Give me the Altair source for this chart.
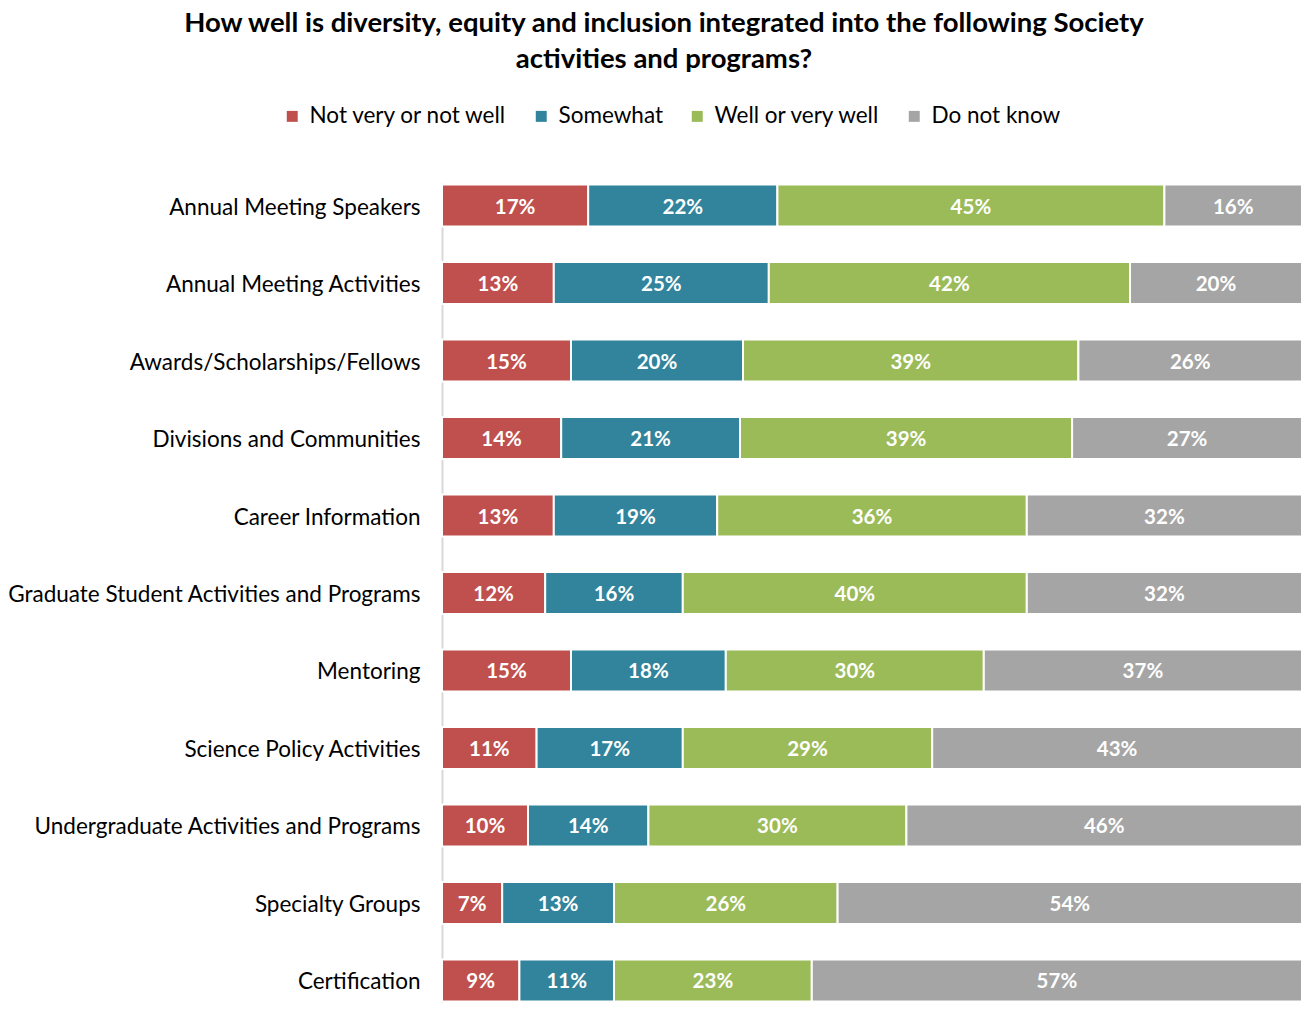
import altair as alt
import pandas as pd

categories = [
    "Annual Meeting Speakers",
    "Annual Meeting Activities",
    "Awards/Scholarships/Fellows",
    "Divisions and Communities",
    "Career Information",
    "Graduate Student Activities and Programs",
    "Mentoring",
    "Science Policy Activities",
    "Undergraduate Activities and Programs",
    "Specialty Groups",
    "Certification",
]
series = ["Not very or not well", "Somewhat", "Well or very well", "Do not know"]
colors = ["#C0504D", "#31849B", "#9BBB59", "#A5A5A5"]

not_well = [17, 13, 15, 14, 13, 12, 15, 11, 10, 7, 9]
somewhat = [22, 25, 20, 21, 19, 16, 18, 17, 14, 13, 11]
well = [45, 42, 39, 39, 36, 40, 30, 29, 30, 26, 23]
dont_know = [16, 20, 26, 27, 32, 32, 37, 43, 46, 54, 57]

rows = []
for vals, s, o in zip([not_well, somewhat, well, dont_know], series, range(4)):
    for c, v in zip(categories, vals):
        rows.append({"cat": c, "series": s, "order": o, "value": v, "label": f"{v}%"})
df = pd.DataFrame(rows)

FONT = "Lato"

base = alt.Chart(df).transform_stack(
    stack="value",
    groupby=["cat"],
    as_=["x0", "x1"],
    offset="normalize",
    sort=[alt.SortField("order", order="ascending")],
).transform_calculate(xm="(datum.x0 + datum.x1) / 2")

y_enc = alt.Y(
    "cat:N",
    sort=categories,
    title=None,
    scale=alt.Scale(paddingInner=0.458, paddingOuter=0.02),
    axis=alt.Axis(
        labelFont=FONT,
        labelFontSize=22.5,
        labelColor="#000000",
        labelPadding=22,
        labelOffset=2,
        ticks=False,
        domainColor="#D9D9D9",
        domainWidth=2,
        labelLimit=500,
    ),
)

bars = base.mark_bar(stroke="white", strokeWidth=2).encode(
    y=y_enc,
    x=alt.X("x0:Q", axis=None, scale=alt.Scale(domain=[0, 1], nice=False)),
    x2="x1:Q",
    color=alt.Color(
        "series:N",
        scale=alt.Scale(domain=series, range=colors),
        legend=alt.Legend(
            title=None,
            orient="none",
            direction="horizontal",
            legendX=-161,
            legendY=-78,
            symbolType="square",
            symbolSize=120,
            symbolStrokeWidth=0,
            labelFont=FONT,
            labelFontSize=22.5,
            labelColor="#000000",
            columnPadding=22,
            labelOffset=6,
            labelLimit=400,
        ),
    ),
)

text = base.mark_text(
    font=FONT, fontSize=20.5, fontWeight="bold", color="white", baseline="middle", dy=2
).encode(
    y=alt.Y("cat:N", sort=categories),
    x=alt.X("xm:Q", scale=alt.Scale(domain=[0, 1], nice=False)),
    text="label:N",
)

chart = (
    alt.layer(bars, text)
    .properties(
        width=860,
        height=820,
        title=alt.TitleParams(
            text=[
                "How well is diversity, equity and inclusion integrated into the following Society",
                "activities and programs?",
            ],
            font=FONT,
            fontSize=27.5,
            fontWeight="bold",
            color="#000000",
            anchor="middle",
            dx=-208,
            offset=32,
            lineHeight=36,
        ),
        autosize=alt.AutoSizeParams(type="none"),
        padding={"left": 434, "top": 175, "right": 0, "bottom": 0},
    )
    .configure_view(stroke=None)
)

chart.save("out.html", embed_options={"renderer": "svg", "actions": False})
